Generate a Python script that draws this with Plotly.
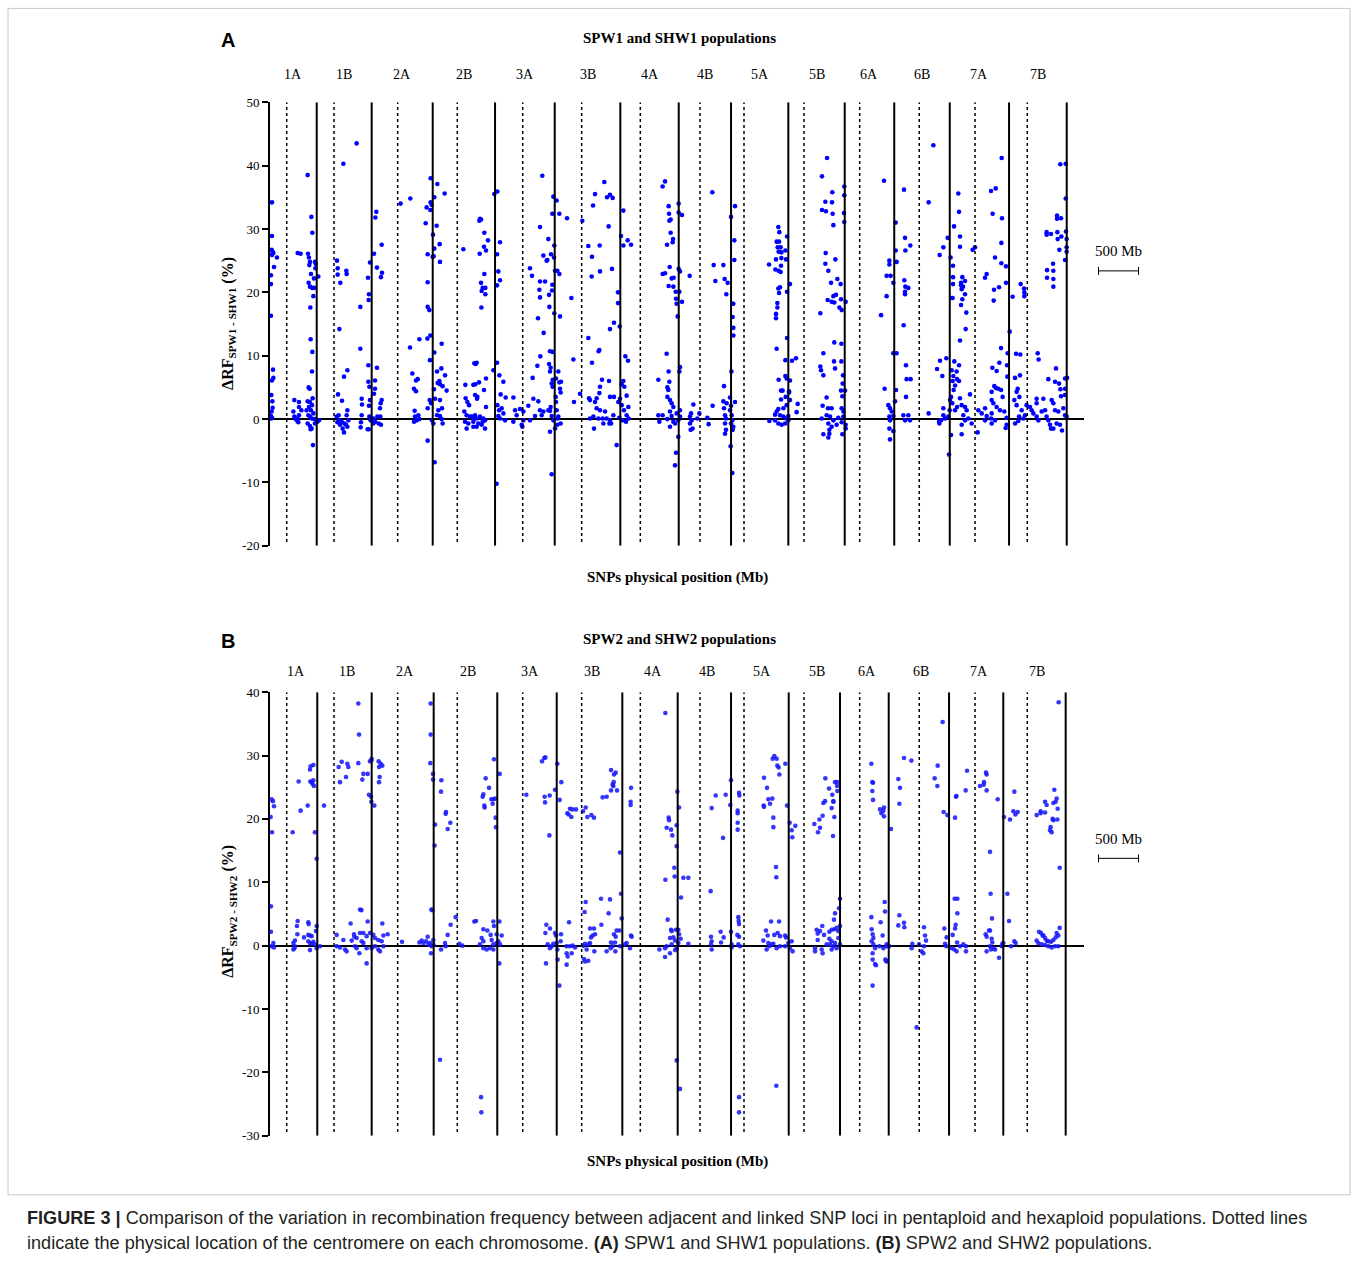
import plotly.graph_objects as go

W, H = 1358, 1261
# measured vertical mapping of the photographed page: shown_y = V_A + V_B * page_y
V_A, V_B = 7.09, 0.9882

chromosomes = ["1A", "1B", "2A", "2B", "3A", "3B", "4A", "4B", "5A", "5B", "6A", "6B", "7A", "7B"]
# cumulative chromosome end positions (Mb) as drawn in each panel
chrom_end_A = [584, 1271, 2034, 2813, 3559, 4379, 5109, 5763, 6479, 7184, 7803, 8497, 9238, 9959]
chrom_end_B = [591, 1271, 2046, 2841, 3584, 4404, 5096, 5763, 6484, 7125, 7734, 8488, 9166, 9946]
# centromere positions (cumulative Mb)
centromere = [209, 800, 1596, 2341, 3159, 3896, 4629, 5375, 5925, 6675, 7371, 8116, 8813, 9466]
x_max = 10175
scale_bar_mb = 500

yA_ticks = [-20, -10, 0, 10, 20, 30, 40, 50]
yB_ticks = [-30, -20, -10, 0, 10, 20, 30, 40]

# ---------------- Panel A: SPW1 vs SHW1 (position Mb, dRF %) ----------------
A_1A = [(25,34.2),(25,28.9),(21,26.7),(33,26.4),(25,25.9),(42,26.2),(87,25.5),(50,24.0),(12,22.7),(12,21.3),
        (12,16.3),(37,7.8),(42,6.5),(25,6.1),(17,3.8),(29,2.8),(33,1.8),(21,1.2),(12,0.5),(12,0.1),(25,0.2),
        (304,3.0),(362,2.7),(292,1.2),(304,0.4),(321,0.0),(342,-0.3),(362,1.9),(392,1.4),(362,0.6),(342,0.1),
        (354,-0.5),(346,26.2),(383,26.1),(471,38.5),(517,31.9),(529,29.4),(475,26.1),(487,25.5),(500,24.8),
        (492,24.3),(562,24.8),(571,24.5),(567,23.8),(512,22.9),(550,22.2),(483,21.5),(500,20.9),(529,20.7),
        (550,20.7),(542,19.4),(504,17.6),(508,12.6),(529,10.6),(525,7.5),(483,5.0),(496,4.8),(533,3.3),
        (500,2.7),(471,2.8),(487,1.9),(525,2.2),(458,1.4),(512,1.4),(542,0.9),(479,0.6),(500,0.4),(521,0.1),
        (554,0.0),(583,-0.2),(471,-0.7),(500,-1.1),(521,-1.5),(508,-1.6),(537,-4.1),(562,-0.7),(592,-0.4)]
A_1B = [(604,22.5),(612,-0.2),(917,40.3),(1083,43.5),(837,25.0),(846,23.8),(954,23.4),(958,22.9),(846,22.8),
        (879,21.5),(867,14.2),(925,6.7),(967,7.7),(850,3.9),(900,2.9),(858,0.6),(833,0.4),(867,-0.2),(896,-0.4),
        (929,-0.7),(950,-0.9),(908,-1.5),(925,-2.1),(967,1.4),(958,0.6),(979,-0.2),(967,-1.2),(875,-0.9),
        (842,-0.5),(1129,17.7),(1129,11.1),(1146,3.2),(1150,2.3),(1146,0.6),(1137,-0.5),(1133,-1.3),(1221,-1.6),
        (1225,22.3),(1237,19.7),(1233,18.8),(1250,24.7),(1229,8.5),(1229,5.9),(1242,5.1),(1250,3.0),(1237,2.1),
        (1242,0.4),(1258,-0.2),(1233,-1.6)]
A_2A = [(1329,32.7),(1317,31.8),(1396,27.5),(1300,26.1),(1337,23.9),(1400,23.1),(1387,22.4),(1337,8.1),(1313,6.1),
        (1313,4.8),(1300,4.0),(1396,3.0),(1383,2.5),(1375,1.7),(1292,0.1),(1342,0.4),(1379,0.4),(1313,-0.4),
        (1358,-0.7),(1292,-0.7),(1387,-0.9),(1633,34.0),(1754,34.8),(1825,6.1),(1846,6.3),(1800,4.8),(1825,4.4),
        (1779,7.2),(1750,11.3),(1867,12.6),(1813,0.4),(1833,-0.2),(1854,0.6),(1800,-0.4),(1867,0.0),(1808,1.3),
        (2008,38.0),(2008,34.2),(2021,33.8),(1958,33.4),(2004,33.0),(1946,30.9),(2038,29.1),(2033,25.6),
        (1971,26.0),(1971,21.6),(1971,17.7),(1992,17.2),(2004,13.2),(1967,12.7),(2000,9.3),(1996,3.0),
        (2013,2.5),(1971,1.7),(2025,-0.2),(1971,-3.4)]
A_2B = [(2092,37.1),(2183,35.6),(2054,35.0),(2083,30.5),(2121,27.6),(2054,26.9),(2046,25.7),(2125,24.8),
        (2146,11.9),(2054,10.5),(2142,8.0),(2188,6.9),(2088,7.5),(2117,6.0),(2096,5.7),(2125,5.5),(2208,4.5),
        (2158,5.2),(2050,4.7),(2125,3.0),(2063,3.2),(2150,1.7),(2104,1.4),(2042,-0.7),(2088,0.6),(2125,0.5),
        (2146,0.0),(2158,-0.7),(2058,-6.8),(2417,26.8),(2554,8.8),(2442,5.4),(2542,5.4),(2446,3.3),(2467,2.7),
        (2488,2.2),(2563,3.8),(2429,1.2),(2458,0.6),(2500,0.4),(2542,0.2),(2438,-0.4),(2479,-0.7),(2458,-1.5),
        (2542,-1.2),(2625,31.6),(2638,31.5),(2617,31.3),(2679,29.4),(2725,28.2),(2675,27.2),(2700,26.6),
        (2621,26.1),(2679,22.9),(2638,21.5),(2658,20.7),(2692,20.7),(2646,20.2),(2692,19.7),(2642,17.6),
        (2583,8.9),(2571,8.7),(2700,6.4),(2613,5.8),(2567,5.5),(2675,4.6),(2592,3.5),(2588,3.2),(2700,1.9),
        (2521,0.4),(2563,0.6),(2583,0.1),(2625,0.4),(2667,0.1),(2688,-0.2),(2542,-0.4),(2604,-0.7),(2646,-0.9),
        (2688,-1.5),(2583,-1.2),(2658,-0.4),(2804,35.5),(2792,7.7)]
A_3A = [(2842,35.9),(2838,26.0),(2854,23.3),(2875,27.9),(2875,21.9),(2838,21.1),(2838,8.9),(2867,6.9),(2917,5.9),
        (2883,3.9),(2946,3.4),(3042,3.4),(2842,2.2),(2863,1.4),(2896,1.7),(2917,0.9),(2854,0.5),(2875,0.1),
        (2938,-0.2),(2833,-10.2),(3063,1.4),(3125,1.6),(3083,0.6),(3042,-0.4),(3146,-0.9),(3167,-0.2),(3167,1.2),
        (3229,2.1),(3250,-0.2),(3292,3.2),(3313,0.5),(3354,2.8),(3375,1.4),(3396,0.6),(3417,1.2),(3154,-1.2),
        (3283,6.5),(3275,22.6),(3250,23.8),(3404,38.4),(3375,30.3),(3350,15.9),(3421,13.6),(3379,9.9),(3342,8.4),
        (3417,25.8),(3458,25.0),(3479,28.4),(3513,26.0),(3467,25.1),(3375,21.7),(3438,21.7),(3367,20.4),
        (3375,19.2),(3488,19.6),(3492,17.7),(3525,20.3),(3529,21.2),(3500,10.7),(3533,10.6),(3488,8.7),
        (3508,8.1),(3500,7.5),(3533,6.2),(3521,5.6),(3533,5.1),(3508,1.9),(3479,1.4),(3521,0.5),(3542,-0.2),
        (3500,-2.0),(3521,-8.7),(3542,35.1),(3529,32.4),(3554,27.4),(3550,25.5),(3554,16.7),(3500,1.3)]
A_3B = [(3583,34.5),(3617,32.4),(3563,23.4),(3592,23.4),(3617,22.9),(3625,16.2),(3604,7.5),(3575,6.4),(3617,5.8),
        (3638,5.9),(3625,4.8),(3633,4.2),(3571,3.5),(3575,2.7),(3583,1.4),(3604,0.4),(3633,-0.7),(3596,0.1),
        (3563,-1.5),(3592,-0.9),(3713,31.7),(3767,19.1),(3792,9.4),(3800,2.7),(3875,4.0),(3904,31.3),(3979,27.3),
        (4038,33.7),(4063,35.5),(4025,25.6),(4021,22.5),(4121,27.4),(4125,23.3),(4179,37.4),(4213,35.0),
        (4250,35.4),(4283,34.9),(4233,30.4),(4275,23.7),(3979,12.8),(4025,8.9),(4108,10.7),(4117,10.9),
        (4150,6.2),(4238,6.0),(4125,5.1),(4117,4.1),(4083,3.3),(3988,3.3),(4000,3.0),(4250,3.5),(4300,3.5),
        (4063,2.7),(4083,1.7),(4125,1.4),(4188,1.2),(4042,0.4),(4104,0.1),(4000,0.1),(4050,-1.5),(4167,-0.7),
        (4208,0.1),(4250,-0.2),(4242,-0.7),(4292,0.6),(4263,-0.7),(4158,0.1),(4350,20.0),(4350,18.3),
        (4300,15.2),(4250,14.2),(4371,14.6),(4375,3.2),(4367,0.2),(4333,-4.1),(4354,2.7)]
A_4A = [(4417,32.9),(4388,28.9),(4417,27.4),(4471,28.2),(4513,27.5),(4442,9.9),(4475,9.2),(4417,6.0),(4396,5.5),
        (4429,5.1),(4458,3.7),(4396,2.2),(4479,1.9),(4425,1.4),(4458,0.6),(4408,-0.2),(4450,-0.4),(4483,0.1),
        (4854,6.2),(4854,0.6),(4908,0.6),(4867,-0.4),(4967,5.0),(4992,5.9),(4983,7.5),(4958,10.3),(4979,4.6),
        (4967,3.5),(5000,3.0),(5021,2.5),(5042,1.9),(5000,1.2),(5021,0.5),(4967,0.0),(5000,-1.2),(5042,-0.4),
        (5063,-0.7),(5104,-0.2),(5125,0.4),(5083,0.9),(5104,-2.8),(5075,-5.3),(5063,-7.3),(5125,8.2),(5117,7.5),
        (4938,37.5),(4908,36.7),(4983,33.6),(4988,32.4),(4992,31.3),(5008,31.5),(5008,29.4),(5038,28.4),
        (5033,27.9),(4963,27.5),(4996,24.0),(4938,23.0),(4908,22.9),(5021,22.2),(5046,22.3),(4983,21.0),
        (5042,20.9),(5071,20.1),(5117,20.1),(5075,19.0),(5083,18.2),(5150,18.5),(5096,16.2),(5108,34.0),
        (5108,32.6),(5150,32.2),(5108,23.7),(5125,23.3),(5125,1.4)]
A_4B = [(5246,22.6),(5263,0.9),(5292,2.3),(5250,0.4),(5271,-0.2),(5250,-0.7),(5283,-1.5),(5258,-1.7),(5342,0.1),
        (5367,0.9),(5467,0.2),(5483,-0.8),(5529,35.8),(5546,24.3),(5567,21.8),(5533,2.1),(5667,24.3),(5683,22.1),
        (5721,21.5),(5704,19.7),(5675,5.2),(5667,2.8),(5708,2.5),(5675,1.7),(5688,0.6),(5700,0.1),(5688,-0.7),
        (5700,-1.7),(5688,-2.3),(5763,31.9),(5813,33.6),(5804,28.2),(5804,25.1),(5779,18.2),(5792,18.2),
        (5783,16.1),(5792,14.4),(5792,13.2),(5767,7.5),(5750,3.4),(5813,2.7),(5763,2.1),(5750,1.4),(5771,0.6),
        (5779,-0.2),(5763,-0.7),(5792,-1.2),(5783,-1.7),(5758,-4.3),(5779,-8.5)]
A_5A = [(6238,24.4),(6354,30.3),(6367,29.5),(6333,28.0),(6363,28.0),(6346,27.1),(6383,27.1),(6358,26.4),
        (6392,26.3),(6442,26.6),(6463,28.8),(6325,25.2),(6392,25.4),(6450,25.2),(6388,24.2),(6317,23.6),
        (6358,23.4),(6383,23.2),(6354,20.6),(6375,20.8),(6363,19.9),(6500,21.3),(6463,20.1),(6342,18.3),
        (6342,17.6),(6325,16.6),(6325,15.9),(6463,12.8),(6333,11.1),(6442,9.3),(6525,9.2),(6575,9.6),(6358,6.2),
        (6442,6.8),(6500,6.1),(6458,6.4),(6388,4.5),(6408,4.5),(6488,4.4),(6488,4.2),(6446,3.5),(6500,3.0),
        (6388,3.1),(6458,2.2),(6417,1.7),(6354,1.6),(6333,1.2),(6313,0.7),(6375,0.6),(6417,0.4),(6458,0.1),
        (6313,-0.2),(6354,-0.7),(6396,-0.9),(6438,-0.7),(6479,-0.2),(6479,0.5),(6242,-0.3),(6596,2.4),(6583,1.1)]
A_5B = [(6963,41.2),(6900,38.3),(7029,35.8),(6942,34.3),(7025,34.2),(6900,33.0),(6950,32.8),(7033,32.4),
        (7042,30.6),(7179,36.7),(7179,35.3),(7175,32.5),(7179,31.1),(6946,26.2),(7067,25.2),(6942,24.5),
        (6979,23.4),(7092,22.1),(7013,21.5),(7133,21.3),(7042,19.4),(7075,19.6),(6971,18.8),(7021,18.5),
        (7054,18.4),(7138,18.9),(7196,18.5),(7117,17.6),(7146,17.2),(6879,16.7),(7054,12.1),(7142,11.9),
        (6917,10.4),(7050,9.1),(7142,9.1),(6879,8.3),(6888,7.7),(7063,8.0),(6917,6.9),(7163,6.9),(7158,5.6),
        (7138,4.5),(7188,4.5),(7154,3.6),(6958,3.4),(6908,2.1),(6975,1.7),(7021,1.7),(7146,1.7),(7167,1.2),
        (6958,0.6),(6896,0.1),(7000,0.4),(7042,-0.2),(7104,0.2),(7167,0.4),(6979,-0.7),(7021,-1.2),(7083,-0.9),
        (7146,-0.5),(7196,-0.9),(7196,-1.5),(6992,-1.7),(6992,-2.3),(6979,-2.9),(7154,-2.4),(6917,-2.4)]
A_6A = [(7675,37.6),(7742,25.0),(7742,24.4),(7708,22.6),(7758,22.6),(7792,21.5),(7708,19.4),(7638,16.4),
        (7792,10.4),(7683,4.8),(7729,2.2),(7750,1.7),(7771,1.2),(7742,0.4),(7792,0.5),(7750,-0.2),(7742,-1.5),
        (7750,-3.2),(7792,-1.9)]
A_6B = [(7821,31.0),(7821,26.6),(7833,24.8),(7833,10.4),(7825,4.6),(7813,2.8),(7925,36.2),(7938,28.6),
        (7942,26.6),(8004,27.4),(7929,21.9),(7942,20.9),(7979,20.7),(7938,20.1),(7938,19.7),(7921,14.8),
        (7950,8.5),(7958,6.3),(8008,6.3),(7950,3.5),(7917,0.6),(7938,-0.2),(7979,0.6),(8000,-0.2),(8233,0.9),
        (8292,43.2),(8233,34.2),(8371,25.9),(8417,27.1),(8471,28.6),(8338,7.9),(8375,9.2),(8404,6.8),(8454,9.6),
        (8367,-0.7),(8388,-0.2),(8417,1.7),(8417,0.6),(8438,0.1),(8479,0.4),(8496,1.4),(8363,-0.4)]
A_7A = [(8604,35.6),(8613,32.7),(8550,30.4),(8625,28.8),(8625,27.2),(8508,25.5),(8538,24.2),(8654,22.4),
        (8538,22.4),(8688,21.8),(8638,21.5),(8538,21.3),(8638,21.1),(8663,20.9),(8646,20.5),(8688,19.7),
        (8521,19.1),(8533,19.1),(8654,18.9),(8638,18.0),(8704,16.8),(8696,14.2),(8625,12.4),(8554,9.1),
        (8613,8.5),(8521,7.7),(8583,7.5),(8542,6.8),(8588,6.3),(8613,6.0),(8533,6.0),(8563,5.3),(8546,4.6),
        (8513,3.5),(8500,3.0),(8529,2.5),(8563,1.4),(8588,1.9),(8625,3.3),(8646,2.2),(8688,1.9),(8708,1.4),
        (8750,3.9),(8667,0.6),(8688,-0.2),(8729,0.1),(8771,-0.7),(8646,-0.9),(8646,-2.4),(8513,-2.5),(8488,-5.6),
        (8783,26.7),(8813,27.1),(8846,-2.1),(8854,1.4),(8896,0.9),(8938,-0.2),(8938,1.7),(8958,0.5),(9013,0.1),
        (9021,0.9),(9063,-0.2),(9021,-0.7),(8938,22.3),(8958,22.9),(9013,36.0),(9071,36.4),(9033,32.4),
        (9063,25.5),(9050,20.4),(9046,18.7),(9113,20.8),(9142,27.8),(9150,31.7),(9142,24.6),(9146,41.2),
        (9200,24.1),(9200,21.5),(9138,11.2),(9117,8.9),(9083,7.6),(9029,8.1),(9021,4.3),(9054,5.2),(9075,4.9),
        (9104,4.8),(9138,4.6),(9158,3.5),(9021,3.0),(9042,2.5),(9083,1.9),(9125,1.4),(9179,1.2),(9208,0.2),
        (9208,-0.9),(9196,-1.4),(9221,10.4),(9217,6.7),(9213,8.5)]
A_7B = [(9246,13.8),(9283,19.3),(9325,10.3),(9379,10.2),(9383,21.3),(9425,20.6),(9429,19.4),(9429,20.0),
        (9375,6.9),(9313,6.5),(9346,4.8),(9333,4.3),(9367,3.5),(9304,3.0),(9333,2.2),(9396,1.4),(9363,0.4),
        (9313,-0.7),(9354,-0.3),(9417,0.1),(9438,0.6),(9458,2.2),(9500,1.9),(9521,1.4),(9583,3.2),(9583,2.5),
        (9542,0.9),(9583,0.4),(9604,-0.2),(9646,1.2),(9667,3.2),(9688,1.4),(9708,0.4),(9729,-0.2),(9750,-0.9),
        (9763,-1.5),(9792,-1.5),(9833,-0.7),(9875,-0.9),(9900,-1.8),(9813,1.4),(9854,1.2),(9917,1.7),(9938,0.6),
        (9958,0.4),(9771,3.0),(9792,2.5),(9825,8.0),(9729,6.3),(9813,5.9),(9863,5.6),(9879,4.7),(9888,3.6),
        (9938,6.4),(9963,6.5),(9938,4.8),(9938,3.8),(9596,10.4),(9608,9.4),(9713,23.5),(9713,22.3),(9788,24.5),
        (9792,23.4),(9792,22.1),(9792,20.9),(9708,29.5),(9708,29.1),(9763,29.2),(9838,32.1),(9838,31.6),
        (9888,31.7),(9842,29.5),(9846,28.4),(9892,28.8),(9950,29.6),(9958,28.4),(9958,27.1),(9958,26.4),
        (9938,25.1),(9867,26.7),(9879,40.2),(9946,40.3),(9946,34.8)]

# ---------------- Panel B: SPW2 vs SHW2 (position Mb, dRF %) ----------------
B_1A = [(21,23.1),(37,22.8),(50,22.0),(8,20.3),(25,17.9),(12,6.2),(12,2.2),(42,0.4),(21,-0.1),(50,-0.3),
        (283,17.9),(358,25.9),(383,21.3),(471,22.1),(500,27.8),(508,28.3),(542,28.5),(504,25.9),(521,25.8),
        (542,26.1),(533,25.5),(550,25.2),(562,17.9),(583,13.7),(346,3.9),(337,3.1),(342,1.8),(479,3.7),(483,3.4),
        (583,3.1),(575,2.3),(479,1.7),(500,1.6),(521,1.5),(425,1.3),(312,0.8),(292,0.4),(312,-0.1),(292,-0.6),
        (479,0.7),(500,0.4),(521,0.3),(542,0.6),(562,0.2),(583,-0.4),(500,-0.7),(304,-0.4)]
B_1B = [(675,22.1),(625,-0.1),(858,28.2),(896,29.0),(967,28.7),(979,28.2),(875,25.8),(950,26.6),(1104,38.2),
        (1113,33.3),(1104,28.8),(1167,27.1),(1221,27.1),(1154,26.2),(1250,29.1),(1271,29.5),(1267,29.2),
        (1237,23.8),(1263,23.5),(1267,22.7),(1125,5.7),(1142,5.6),(1008,3.5),(1221,3.8),(833,1.7),(917,0.9),
        (1050,1.8),(1054,1.4),(1083,1.2),(1125,2.0),(1167,2.0),(1146,0.7),(1208,1.5),(1250,2.0),(833,-0.1),
        (875,-0.3),(938,-0.6),(958,-0.9),(1021,0.8),(1063,-0.1),(1083,-0.4),(1117,-1.2),(1167,0.4),(1208,-0.4),
        (1271,-0.4),(1208,-2.8)]
B_2A = [(1304,22.1),(1358,29.1),(1383,28.7),(1404,28.4),(1363,28.2),(1371,26.6),(1363,25.8),(1404,3.5),
        (1292,1.7),(1313,1.2),(1354,0.9),(1417,1.6),(1471,1.8),(1313,-0.1),(1354,-0.6),(1375,-0.9),(1396,0.7),
        (1417,-0.1),(1650,0.6),(1867,0.5),(1896,0.8),(1917,0.4),(1950,0.7),(1971,1.4),(1979,0.2),(2000,0.4),
        (2021,-0.1),(2013,-1.2),(2042,0.9),(2042,0.2),(2008,38.2),(2008,33.3),(2004,28.8),(2038,27.1),
        (2038,26.2),(2063,19.1),(2058,15.8),(2017,5.7),(2029,5.6)]
B_2B = [(2142,26.1),(2138,24.3),(2200,21.1),(2196,20.8),(2254,19.4),(2221,18.4),(2321,4.5),(2258,3.3),
        (2221,1.7),(2188,0.4),(2196,-0.1),(2138,-0.6),(2125,-18.0),(2367,0.3),(2404,0.0),(2554,3.8),(2575,3.9),
        (2667,2.6),(2717,2.4),(2800,3.1),(2792,3.8),(2833,1.8),(2646,1.2),(2667,0.7),(2758,1.7),(2771,0.9),
        (2792,0.2),(2833,0.4),(2625,0.2),(2667,-0.4),(2708,-0.6),(2750,-0.4),(2792,-0.6),(2638,-23.9),
        (2642,-26.3),(2800,29.4),(2696,26.4),(2738,24.9),(2667,23.9),(2658,23.5),(2767,23.1),(2792,23.1),
        (2813,23.2),(2783,22.4),(2679,22.1),(2683,21.8),(2821,20.2),(2825,18.7)]
B_3A = [(2867,3.8),(2896,1.6),(2854,0.7),(2875,0.2),(2867,-2.8),(2871,27.1),(3204,23.8),(3400,29.1),(3429,29.6),
        (3442,29.7),(3433,23.5),(3438,22.6),(3496,23.7),(3492,17.4),(3563,24.6),(3454,3.3),(3500,2.7),(3442,2.0),
        (3563,2.0),(3575,1.6),(3471,0.2),(3500,-0.4),(3521,-0.1),(3542,0.3),(3583,0.4),(3450,-2.8)]
B_3B = [(3592,28.7),(3621,23.0),(3642,25.8),(3592,-0.6),(3596,-2.2),(3617,-6.3),(3638,1.8),(3633,0.7),
        (3717,20.9),(3733,20.7),(3767,20.3),(3750,21.6),(3779,21.5),(3825,21.5),(3913,21.2),(3946,21.8),
        (3967,20.3),(4017,20.6),(4050,20.2),(4158,23.4),(4208,23.5),(4263,27.7),(4300,27.0),(4321,27.3),
        (4283,25.4),(4296,25.8),(4292,25.2),(4263,24.5),(4338,24.5),(4375,14.7),(4388,8.2),(4396,4.3),
        (3946,6.9),(3933,5.3),(4138,7.4),(4250,7.3),(4233,5.1),(3738,3.7),(4000,2.7),(4050,2.7),(4063,1.8),
        (4033,1.6),(4013,1.3),(4142,3.3),(4333,2.4),(4367,2.4),(4300,1.8),(4321,1.4),(4263,0.5),(4313,0.5),
        (3708,-0.1),(3750,-0.1),(3783,0.0),(3813,-0.3),(3708,-1.2),(3721,-1.7),(3708,-3.0),(3771,-1.2),
        (3917,0.0),(3938,0.3),(3958,-0.6),(3983,0.2),(4000,0.4),(4054,-0.9),(3925,-2.1),(3938,-2.5),(3979,-2.4),
        (4208,-0.9),(4258,-0.4),(4317,-0.9),(4283,-0.1),(4375,-0.1)]
B_4A = [(4438,0.2),(4458,0.4),(4500,-0.4),(4513,1.6),(4521,1.4),(4513,24.9),(4508,22.7),(4508,22.2),(4942,36.7),
        (5092,24.3),(5113,21.8),(5083,19.0),(5083,15.7),(4983,20.2),(4988,19.8),(4958,18.6),(5013,18.3),
        (5029,17.4),(5054,12.3),(5058,10.9),(4942,10.4),(5138,7.6),(5167,10.7),(4971,4.1),(5013,2.5),(5021,2.3),
        (5075,2.5),(5104,2.5),(5113,1.8),(5042,1.3),(5000,1.2),(5063,0.8),(5104,0.4),(5133,1.1),(5083,-0.4),
        (5063,-0.7),(5021,0.2),(4958,-0.1),(4938,-0.4),(4867,-0.6),(5000,-1.2),(4938,-1.8),(5083,-18.1),
        (5125,-22.6)]
B_4B = [(5229,10.7),(5229,0.3),(5508,8.6),(5521,21.7),(5571,23.7),(5696,23.8),(5663,17.0),(5513,1.4),(5521,0.7),
        (5513,0.2),(5521,-0.6),(5633,2.2),(5671,1.3),(5638,0.5),(5763,26.1),(5754,22.2),(5763,2.2),(5771,0.2),
        (5771,-0.3)]
B_5A = [(5846,20.9),(5846,21.3),(5867,23.7),(5863,24.1),(5846,19.4),(5846,18.3),(5854,4.5),(5858,3.9),(5863,3.4),
        (5842,1.7),(5863,1.4),(5854,0.2),(5875,-0.1),(5863,-23.9),(5863,-26.3),(6175,26.5),(6213,24.9),
        (6229,23.1),(6279,23.2),(6250,22.4),(6171,22.1),(6175,21.9),(6292,20.2),(6292,18.7),(6283,29.5),
        (6304,29.9),(6333,29.5),(6342,28.4),(6358,28.1),(6367,27.0),(6442,28.7),(6325,12.4),(6329,10.8),
        (6463,22.1),(6496,19.4),(6521,18.2),(6567,18.9),(6529,17.1),(6329,-22.1),(6263,3.8),(6363,3.8),
        (6200,2.4),(6221,1.6),(6304,1.7),(6346,2.0),(6375,1.5),(6438,1.6),(6450,1.3),(6167,0.8),(6229,0.4),
        (6242,-0.1),(6208,-0.6),(6271,0.2),(6292,0.3),(6333,-0.4),(6375,-0.1),(6438,-0.1),(6479,0.4),
        (6500,-0.4),(6521,0.7),(6533,-0.9)]
B_5B = [(6804,19.2),(6850,17.9),(6867,19.9),(6908,20.5),(6875,18.6),(6938,22.8),(6917,22.5),(6988,24.8),
        (7029,23.8),(7042,22.7),(7021,21.7),(7042,22.8),(7054,20.3),(7038,17.3),(6942,26.4),(7063,25.8),
        (7088,25.8),(7088,25.2),(7092,24.4),(7125,7.4),(7113,5.9),(7063,5.1),(7050,4.1),(7125,3.1),(6833,2.5),
        (6846,1.9),(6875,2.3),(6904,3.1),(6925,1.7),(6846,0.9),(6992,2.2),(7021,2.5),(7054,2.6),(7083,2.8),
        (7104,2.3),(6992,1.1),(7021,0.7),(7063,0.4),(7104,1.2),(7000,0.2),(7042,-0.1),(7083,-0.4),(7125,0.2),
        (6813,-0.4),(6813,-0.9),(6896,-0.6),(6908,-1.2),(6958,0.2),(7021,-0.6)]
B_6A = [(7517,28.7),(7529,25.8),(7538,25.7),(7529,24.4),(7538,23.0),(7625,21.5),(7667,21.3),(7675,21.8),
        (7642,20.9),(7675,20.4),(7683,6.9),(7688,5.4),(7517,4.5),(7633,3.7),(7521,2.6),(7658,1.6),(7533,1.8),
        (7542,1.2),(7521,0.7),(7542,0.2),(7563,-0.4),(7533,-1.2),(7563,-2.9),(7575,-3.1),(7533,-2.2),(7533,-6.3),
        (7617,-0.1),(7667,-0.4),(7692,-2.2),(7700,-2.4),(7708,0.2),(7729,0.0),(7708,-0.1),(7738,-0.1),(7708,-2.5)]
B_6B = [(7763,18.4),(7854,26.3),(7875,24.9),(7925,29.6),(8017,29.2),(7867,22.4),(7867,4.8),(7854,3.2),(7925,3.6),
        (7929,2.9),(8029,0.3),(8021,-0.4),(8083,-12.9),(8113,0.2),(8146,-0.9),(8175,2.9),(8188,1.6),(8200,0.8),
        (8175,-0.1),(8167,-1.2),(8308,26.4),(8346,28.4),(8342,25.2),(8408,35.3),(8421,21.1),(8467,20.6),
        (8429,2.7),(8458,1.3),(8438,0.3),(8454,-0.1)]
B_7A = [(8563,20.2),(8575,23.5),(8579,23.6),(8696,24.5),(8713,27.6),(8558,7.4),(8592,7.4),(8592,5.1),(8571,3.3),
        (8563,2.7),(8533,1.7),(8588,0.5),(8521,-0.4),(8554,-0.6),(8583,-0.9),(8625,-0.1),(8667,0.2),(8700,-0.1),
        (8700,-0.9),(8875,25.2),(8925,25.8),(8921,25.4),(8950,27.3),(8958,27.0),(8958,24.5),(9000,14.8),
        (9008,8.2),(9025,4.3),(8946,1.8),(8958,1.4),(8988,2.4),(9000,2.4),(9021,1.1),(9029,0.5),(9000,-0.1),
        (9042,-0.4),(8958,-0.9),(9013,-0.6),(9063,-0.6),(9113,-1.9),(9096,23.1),(9154,0.3),(9146,-0.1),(9167,0.4)]
B_7B = [(9175,20.3),(9250,19.9),(9292,21.2),(9317,20.7),(9346,21.1),(9304,24.3),(9217,8.2),(9238,3.9),
        (9263,-0.1),(9304,0.7),(9321,0.4),(9583,20.6),(9633,21.2),(9633,20.9),(9688,22.7),(9708,22.2),
        (9688,21.0),(9804,24.6),(9833,23.2),(9821,22.7),(9792,22.5),(9846,21.6),(9783,20.0),(9792,19.8),
        (9842,19.9),(9758,18.7),(9750,18.2),(9771,17.9),(9858,38.4),(9871,12.3),(9613,2.2),(9638,2.0),
        (9667,1.6),(9688,1.2),(9729,0.7),(9763,0.6),(9792,0.9),(9821,1.3),(9854,1.6),(9871,2.8),(9833,2.0),
        (9583,0.8),(9604,0.4),(9646,0.2),(9688,0.1),(9729,-0.1),(9771,-0.3),(9813,-0.1),(9854,-0.1),
        (9658,1.6),(9708,0.8)]

panelA = [A_1A, A_1B, A_2A, A_2B, A_3A, A_3B, A_4A, A_4B, A_5A, A_5B, A_6A, A_6B, A_7A, A_7B]
panelB = [B_1A, B_1B, B_2A, B_2B, B_3A, B_3B, B_4A, B_4B, B_5A, B_5B, B_6A, B_6B, B_7A, B_7B]

# ---------------- layout geometry (target picture pixels) ----------------
def px(x):
    return x / W

def py(y):
    page_y = (y - V_A) / V_B
    return 1 - page_y / H

x_dom = [px(270), px(1084)]
yA_dom = [py(546), py(102.3)]
yB_dom = [py(1136), py(692.3)]
mb_per_px = x_max / (1084 - 270)

SERIF = "Liberation Serif, Times New Roman, serif"
SANS = "Liberation Sans, Arial, sans-serif"

fig = go.Figure()

for pts_list, xa, ya, color in [(panelA, "x", "y", "#0000ff"), (panelB, "x2", "y2", "rgba(25,25,250,0.88)")]:
    xs = [p[0] for pts in pts_list for p in pts]
    ys = [p[1] for pts in pts_list for p in pts]
    fig.add_trace(go.Scatter(x=xs, y=ys, mode="markers", xaxis=xa, yaxis=ya,
                             marker=dict(size=4.6, color=color, line=dict(width=0)),
                             showlegend=False, hoverinfo="skip"))

shapes = []
annotations = []

def add_panel(xref, yref, ends, yr, label_y_px, label_shift_px, title, title_y_px, ylab, ylab_y_px,
              xlab_y_px, letter, letter_y_px, bar_y_px, bar_text_y_px):
    ylo, yhi = yr
    for e in ends:
        shapes.append(dict(type="line", xref=xref, yref=yref, x0=e, x1=e, y0=ylo, y1=yhi,
                           line=dict(color="black", width=2)))
    for c in centromere:
        shapes.append(dict(type="line", xref=xref, yref=yref, x0=c, x1=c, y0=ylo + 0.6, y1=yhi,
                           line=dict(color="black", width=1.5, dash="dot")))
    starts = [0] + ends[:-1]
    for name, s, e in zip(chromosomes, starts, ends):
        annotations.append(dict(x=(s + e) / 2 + label_shift_px * mb_per_px, y=py(label_y_px), xref=xref,
                                yref="paper", text=name, showarrow=False,
                                font=dict(family=SERIF, size=14, color="black"),
                                xanchor="center", yanchor="middle"))
    annotations.append(dict(x=px(679), y=py(title_y_px), xref="paper", yref="paper", text="<b>%s</b>" % title,
                            showarrow=False, font=dict(family=SERIF, size=15, color="black"),
                            xanchor="center", yanchor="middle"))
    annotations.append(dict(x=px(229), y=py(ylab_y_px), xref="paper", yref="paper", text=ylab,
                            showarrow=False, textangle=-90, font=dict(family=SERIF, size=16, color="black"),
                            xanchor="center", yanchor="middle"))
    annotations.append(dict(x=px(677), y=py(xlab_y_px), xref="paper", yref="paper",
                            text="<b>SNPs physical position (Mb)</b>", showarrow=False,
                            font=dict(family=SERIF, size=15, color="black"), xanchor="center", yanchor="middle"))
    annotations.append(dict(x=px(228), y=py(letter_y_px), xref="paper", yref="paper", text="<b>%s</b>" % letter,
                            showarrow=False, font=dict(family=SANS, size=20, color="black"),
                            xanchor="center", yanchor="middle"))
    # 500 Mb scale bar, length from the x axis scale
    bar_len = scale_bar_mb / x_max * (x_dom[1] - x_dom[0])
    bx0 = px(1098.5)
    by = py(bar_y_px)
    shapes.append(dict(type="line", xref="paper", yref="paper", x0=bx0, x1=bx0 + bar_len, y0=by, y1=by,
                       line=dict(color="black", width=1)))
    for bx in (bx0, bx0 + bar_len):
        shapes.append(dict(type="line", xref="paper", yref="paper", x0=bx, x1=bx,
                           y0=py(bar_y_px + 4), y1=py(bar_y_px - 4), line=dict(color="black", width=1)))
    annotations.append(dict(x=bx0 + bar_len / 2, y=py(bar_text_y_px), xref="paper", yref="paper", text="500 Mb",
                            showarrow=False, font=dict(family=SERIF, size=15, color="black"),
                            xanchor="center", yanchor="middle"))

add_panel("x", "y", chrom_end_A, (-20, 50), 75, 0, "SPW1 and SHW1 populations", 38,
          "<b>ΔRF<sub>SPW1 - SHW1</sub> (%)</b>", 324, 578, "A", 40, 271, 251)
add_panel("x2", "y2", chrom_end_B, (-30, 40), 672, 2.5, "SPW2 and SHW2 populations", 639,
          "<b>ΔRF<sub>SPW2 - SHW2</sub> (%)</b>", 912, 1162, "B", 641, 858.5, 839)

# outer frame
shapes.append(dict(type="rect", xref="paper", yref="paper", x0=px(8), x1=px(1350), y0=py(1195), y1=py(8.5),
                   line=dict(color="#c8c8c8", width=1), layer="below"))

caption1 = ("<b>FIGURE 3 |</b> Comparison of the variation in recombination frequency between adjacent and "
            "linked SNP loci in pentaploid and hexaploid populations. Dotted lines")
caption2 = ("indicate the physical location of the centromere on each chromosome. <b>(A)</b> SPW1 and SHW1 "
            "populations. <b>(B)</b> SPW2 and SHW2 populations.")
for txt, yy in [(caption1, 1218), (caption2, 1243)]:
    annotations.append(dict(x=px(25), y=py(yy), xref="paper", yref="paper", text=txt, showarrow=False,
                            font=dict(family=SANS, size=18.13, color="#231f20"), xanchor="left", yanchor="middle"))

def yaxis_cfg(dom, rng, ticks, anchor):
    return dict(domain=dom, range=rng, tickmode="array", tickvals=ticks,
                ticktext=[str(t) for t in ticks], ticks="outside", ticklen=6, tickwidth=2,
                tickcolor="black", showline=True, linewidth=2, linecolor="black", showgrid=False,
                zeroline=True, zerolinecolor="black", zerolinewidth=1.6, anchor=anchor,
                tickfont=dict(family=SERIF, size=13, color="black"), fixedrange=True)

def xaxis_cfg(anchor):
    return dict(domain=x_dom, range=[0, x_max], showline=False, showticklabels=False, showgrid=False,
                zeroline=False, ticks="", anchor=anchor, fixedrange=True)

fig.update_layout(
    width=W, height=H, margin=dict(l=0, r=0, t=0, b=0), autosize=False,
    paper_bgcolor="white", plot_bgcolor="white",
    xaxis=xaxis_cfg("y"), yaxis=yaxis_cfg(yA_dom, [-20, 50], yA_ticks, "x"),
    xaxis2=xaxis_cfg("y2"), yaxis2=yaxis_cfg(yB_dom, [-30, 40], yB_ticks, "x2"),
    shapes=shapes, annotations=annotations, showlegend=False,
)

fig.write_html(
    "out.html",
    config={"displayModeBar": False, "responsive": False},
    post_script=("document.documentElement.style.margin='0px';document.body.style.margin='0px';"
                 "document.documentElement.style.overflow='hidden';document.body.style.overflow='hidden';"),
)
